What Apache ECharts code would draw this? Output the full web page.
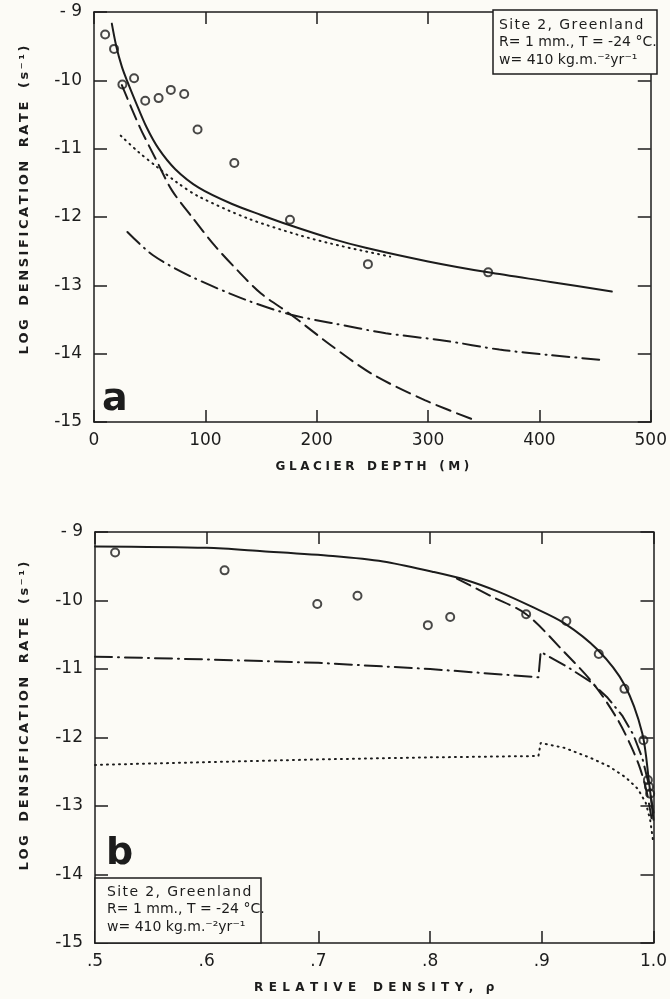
<!DOCTYPE html>
<html>
<head>
<meta charset="utf-8">
<title>Densification rate, Site 2 Greenland</title>
<script src="https://cdn.jsdelivr.net/npm/echarts/dist/echarts.min.js"></script>
<style>
	html, body { margin: 0; padding: 0; background: #fcfbf6; }
	#main { width: 670px; height: 999px; }
</style>
</head>
<body>
<div id="main"></div>
<script>
// --- panel a : glacier depth (m) ---
var depthObs = [10, 18, 25.5, 36, 46, 58, 69, 81, 93, 126, 176, 246, 354];
var rateObsA = [-9.33, -9.54, -10.06, -9.97, -10.30, -10.26, -10.14, -10.20, -10.72, -11.21, -12.04, -12.69, -12.81];

var depthSolid = [16, 20, 25, 30, 37, 47, 58, 73, 94, 124, 150, 174, 214, 244, 300, 354, 410, 465];
var rateSolidA = [-9.17, -9.5, -9.8, -10.02, -10.3, -10.68, -11.0, -11.30, -11.57, -11.81, -11.97, -12.11, -12.32, -12.45, -12.65, -12.81, -12.95, -13.09];

var depthDotted = [24, 40, 56, 75, 94, 138, 183, 213, 240, 266];
var rateDottedA = [-10.81, -11.05, -11.26, -11.5, -11.70, -12.02, -12.26, -12.39, -12.49, -12.58];

var depthDashed = [25, 41, 56, 70, 88, 109, 130, 150, 177, 213, 250, 297, 343];
var rateDashedA = [-10.07, -10.68, -11.17, -11.61, -12.0, -12.43, -12.8, -13.12, -13.43, -13.88, -14.3, -14.68, -14.98];

var depthDashDot = [30, 53, 87, 136, 177, 213, 262, 315, 364, 409, 455];
var rateDashDotA = [-12.22, -12.56, -12.87, -13.21, -13.43, -13.55, -13.70, -13.81, -13.94, -14.02, -14.09];

// --- panel b : relative density ---
var densObs = [0.518, 0.616, 0.699, 0.735, 0.798, 0.818, 0.886, 0.922, 0.951, 0.974, 0.991, 0.995, 0.996, 0.997];
var rateObsB = [-9.30, -9.56, -10.05, -9.93, -10.36, -10.24, -10.20, -10.30, -10.78, -11.29, -12.04, -12.62, -12.72, -12.82];

var densSolid = [0.5, 0.6, 0.65, 0.713, 0.758, 0.802, 0.832, 0.861, 0.891, 0.92, 0.95, 0.974, 0.99, 0.996, 1.0];
var rateSolidB = [-9.21, -9.23, -9.28, -9.35, -9.43, -9.58, -9.70, -9.87, -10.09, -10.33, -10.72, -11.23, -11.94, -12.65, -13.2];

var densDashed = [0.824, 0.855, 0.886, 0.92, 0.947, 0.968, 0.98, 0.988, 0.994, 0.999];
var rateDashedB = [-9.68, -9.94, -10.20, -10.75, -11.23, -11.74, -12.13, -12.45, -12.8, -13.25];

var densDashDot = [0.5, 0.6, 0.7, 0.8, 0.897, 0.899, 0.923, 0.944, 0.959, 0.972, 0.982, 0.99, 0.996, 1.0];
var rateDashDotB = [-10.82, -10.86, -10.91, -11.0, -11.12, -10.75, -10.97, -11.19, -11.42, -11.68, -11.96, -12.3, -12.7, -13.1];

var densDotted = [0.5, 0.6, 0.7, 0.8, 0.897, 0.899, 0.92, 0.944, 0.96, 0.975, 0.986, 0.993, 0.997, 1.0];
var rateDottedB = [-12.40, -12.36, -12.32, -12.29, -12.27, -12.08, -12.15, -12.30, -12.42, -12.58, -12.75, -12.95, -13.2, -13.55];

var ink = '#1c1c1c';
var paper = '#fcfbf6';
var tickFont = 'DejaVu Sans';

function pairs(xs, ys){
	return xs.map(function(x, i){ return [x, ys[i]]; });
}

function xAx(grid, min, max, step, pos, fmt, name){
	return {
		gridIndex: grid, type: 'value', position: pos,
		min: min, max: max, interval: step,
		axisLine: { show: true, onZero: false, lineStyle: { color: ink, width: 1.5 } },
		axisTick: { show: true, inside: true, length: 12, lineStyle: { color: ink, width: 1.5 } },
		axisLabel: { show: pos == 'bottom', margin: 10, color: ink, fontFamily: tickFont, fontSize: 17, formatter: fmt },
		splitLine: { show: false },
		name: pos == 'bottom' ? name : '',
		nameLocation: 'middle', nameGap: 39,
		nameTextStyle: { color: ink, fontFamily: tickFont, fontSize: 12, fontWeight: 'bold' }
	};
}

function yAx(grid, pos){
	return {
		gridIndex: grid, type: 'value', position: pos,
		min: -15, max: -9, interval: 1,
		axisLine: { show: true, onZero: false, lineStyle: { color: ink, width: 1.5 } },
		axisTick: { show: true, inside: true, length: 13, lineStyle: { color: ink, width: 1.5 } },
		axisLabel: { show: pos == 'left', margin: 12, color: ink, fontFamily: tickFont, fontSize: 17,
			formatter: function(v){ return v == -9 ? '- 9' : '-' + Math.abs(v); } },
		splitLine: { show: false }
	};
}

function curve(xi, data, type, smooth){
	return {
		type: 'line', xAxisIndex: xi, yAxisIndex: xi, data: data,
		showSymbol: false, symbol: 'none', smooth: smooth, z: 3,
		lineStyle: { color: ink, width: 2, type: type, cap: 'round' }
	};
}

function dots(xi, data){
	return {
		type: 'scatter', xAxisIndex: xi, yAxisIndex: xi, data: data,
		symbol: 'circle', symbolSize: 8, z: 4,
		itemStyle: { color: 'rgba(255,255,255,0)', borderColor: ink, borderWidth: 2 }
	};
}

var spaced = function(s, gap){ return s.split('').join(gap || '\u2009'); };
var yName = spaced('LOG') + '   ' + spaced('DENSIFICATION') + '   ' + spaced('RATE') + '   ' + spaced('(s⁻¹)');

function siteBox(x, y, w, h, tx, ty){
	return [
		{ type: 'rect', z: 100, shape: { x: x, y: y, width: w, height: h },
			style: { fill: paper, stroke: ink, lineWidth: 1.5 } },
		{ type: 'text', z: 101, x: tx, y: ty, style: { text: spaced('Site 2, Greenland', '\u200A'), font: '14px DejaVu Sans', fill: ink, textVerticalAlign: 'middle' } },
		{ type: 'text', z: 101, x: tx, y: ty + 17, style: { text: 'R= 1 mm., T = -24 °C.', font: '14px DejaVu Sans', fill: ink, textVerticalAlign: 'middle' } },
		{ type: 'text', z: 101, x: tx, y: ty + 35, style: { text: 'w= 410 kg.m.⁻²yr⁻¹', font: '14px DejaVu Sans', fill: ink, textVerticalAlign: 'middle' } }
	];
}

window.onload = function(){
	var myChart = echarts.init(document.getElementById('main'));
	myChart.setOption({
		backgroundColor: paper,
		animation: false,
		grid: [
			{ left: 94, top: 12, width: 563, height: 410 },
			{ left: 95, top: 532, width: 563, height: 411 }
		],
		xAxis: [
			xAx(0, 0, 500, 100, 'bottom', null,
				spaced('GLACIER', '\u2009\u200A') + '   ' + spaced('DEPTH', '\u2009\u200A') + '   ' + spaced('(M)', '\u2009\u200A')),
			xAx(0, 0, 500, 100, 'top'),
			xAx(1, 0.5, 1.0, 0.1, 'bottom', function(v){ return v >= 1 ? '1.0' : '.' + Math.round(v * 10); },
				spaced('RELATIVE', ' \u200A') + '    ' + spaced('DENSITY,', ' \u200A') + '   ρ'),
			xAx(1, 0.5, 1.0, 0.1, 'top')
		],
		yAxis: [
			yAx(0, 'left'), yAx(0, 'right'),
			yAx(1, 'left'), yAx(1, 'right')
		],
		graphic: [
			{ type: 'text', x: 25, y: 200, rotation: Math.PI / 2,
				style: { text: yName, font: 'bold 13px DejaVu Sans', fill: ink, textAlign: 'center', textVerticalAlign: 'middle' } },
			{ type: 'text', x: 25, y: 716, rotation: Math.PI / 2,
				style: { text: yName, font: 'bold 13px DejaVu Sans', fill: ink, textAlign: 'center', textVerticalAlign: 'middle' } },
			{ type: 'text', z: 101, x: 102, y: 419, style: { text: 'a', font: 'bold 38px DejaVu Sans', fill: ink, textVerticalAlign: 'bottom' } },
			{ type: 'text', z: 101, x: 106, y: 873, style: { text: 'b', font: 'bold 38px DejaVu Sans', fill: ink, textVerticalAlign: 'bottom' } }
		].concat(siteBox(493, 10, 164, 64, 499, 25)).concat(siteBox(95, 878, 166, 65, 107, 892)),
		series: [
			curve(0, pairs(depthSolid, rateSolidA), 'solid', 0.3),
			curve(0, pairs(depthDotted, rateDottedA), [1, 5], 0.3),
			curve(0, pairs(depthDashed, rateDashedA), [15, 7], 0.3),
			curve(0, pairs(depthDashDot, rateDashDotA), [17, 6, 1, 6], 0.3),
			dots(0, pairs(depthObs, rateObsA)),

			curve(2, pairs(densSolid, rateSolidB), 'solid', 0.3),
			curve(2, pairs(densDashed, rateDashedB), [15, 7], 0.3),
			curve(2, pairs(densDashDot, rateDashDotB), [17, 6, 1, 6], false),
			curve(2, pairs(densDotted, rateDottedB), [1, 5], false),
			dots(2, pairs(densObs, rateObsB))
		]
	});
};
</script>
</body>
</html>
